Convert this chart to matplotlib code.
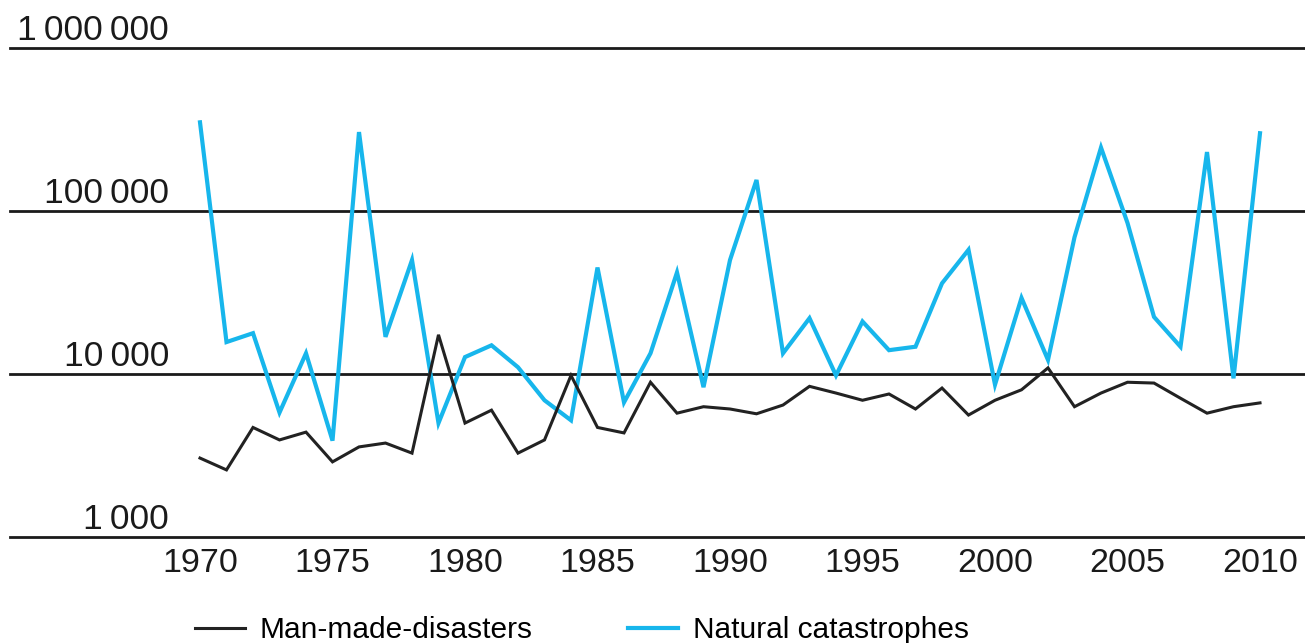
import matplotlib
matplotlib.use("Agg")
import matplotlib.pyplot as plt
from matplotlib.lines import Line2D

years = list(range(1970, 2011))
man_made = [3050, 2580, 4700, 3940, 4400, 2890, 3570, 3770, 3270, 17400,
            5000, 6000, 3270, 3940, 9800, 4700, 4350, 8900, 5750, 6300,
            6100, 5700, 6450, 8400, 7640, 6900, 7540, 6100, 8200, 5600,
            6900, 8000, 10900, 6300, 7640, 8900, 8800, 7100, 5750, 6300,
            6650]
natural = [350000, 15700, 17800, 5800, 13400, 3900, 305000, 16900, 50000, 5000,
           12700, 15000, 11000, 6900, 5200, 45000, 6700, 13400, 42000, 8300,
           50000, 155000, 13400, 22000, 9800, 21000, 14000, 14700, 36000, 57800,
           8600, 29300, 12200, 69000, 245000, 84500, 22400, 14700, 230000, 9400,
           300000]
ytick_vals = [1000, 10000, 100000, 1000000]
ytick_labels = ["1\u2009000", "10\u2009000", "100\u2009000", "1\u2009000\u2009000"]
xtick_vals = [1970, 1975, 1980, 1985, 1990, 1995, 2000, 2005, 2010]
series_names = ["Man-made-disasters", "Natural catastrophes"]

W, H = 1305, 643
fig = plt.figure(figsize=(W / 100, H / 100), dpi=100)
fam = ["Liberation Sans", "DejaVu Sans"]
plt.rcParams["font.family"] = fam

ax = fig.add_axes([10 / W, 1 - 537 / H, 1 - 10 / W, (537 - 48) / H])
ax.set_yscale("log")
ax.set_ylim(1000, 1000000)
ax.set_xlim(1970 - 190 / 26.5, 2010 + 45 / 26.5)

for v in ytick_vals:
    ax.axhline(v, color="#1a1a1a", lw=2.0, zorder=1, clip_on=False)

blue = "#17b6ec"
ax.plot(years, man_made, color="#222222", lw=2.2, zorder=3, solid_joinstyle="miter")
ax.plot(years, natural, color=blue, lw=3.0, zorder=2, solid_joinstyle="miter")

for s in ax.spines.values():
    s.set_visible(False)
ax.set_yticks([])
ax.minorticks_off()
ax.set_xticks(xtick_vals)
ax.set_xticklabels([str(x) for x in xtick_vals], fontsize=24.5, color="#1a1a1a")
ax.tick_params(axis="x", length=0, pad=8)

for v, lab in zip(ytick_vals, ytick_labels):
    ax.annotate(lab, xy=(0, v), xycoords=("axes fraction", "data"),
                xytext=(159, 8), textcoords="offset pixels",
                ha="right", va="baseline", fontsize=25.5, color="#1a1a1a")

handles = [Line2D([], [], color="#222222", lw=2.2),
           Line2D([], [], color=blue, lw=3.0)]
fig.legend(handles, series_names, loc="center left", ncol=2,
           bbox_to_anchor=(195 / W, 1 - 630 / H), frameon=False,
           fontsize=21.5, handlelength=1.67, handletextpad=0.5, columnspacing=3.2,
           borderaxespad=0, borderpad=0, handleheight=0.5)

fig.savefig("out.png", dpi=100)
